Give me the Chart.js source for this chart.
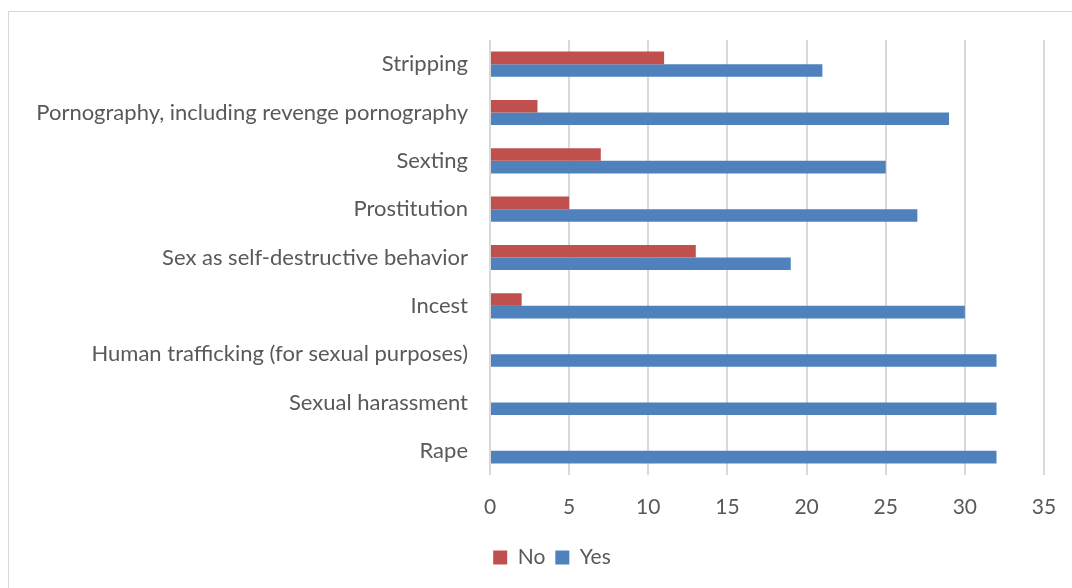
<!DOCTYPE html>
<html>
<head>
<meta charset="utf-8">
<script src="https://cdn.jsdelivr.net/npm/chart.js"></script>
<style>
  html, body { margin: 0; padding: 0; background: #fff; }
  .frame { position: absolute; left: 8px; top: 11px; width: 1100px; height: 600px; border: 1px solid #d9d9d9; }
  .area_body { position: absolute; left: 0; top: 0; width: 1072px; height: 588px; }
</style>
</head>
<body>
<div class="frame"></div>
<div class="area_body">
  <canvas id="myChart" width="1072" height="588"></canvas>
</div>
<script>
  // データ
  var categories = [
    'Stripping',
    'Pornography, including revenge pornography',
    'Sexting',
    'Prostitution',
    'Sex as self-destructive behavior',
    'Incest',
    'Human trafficking (for sexual purposes)',
    'Sexual harassment',
    'Rape'
  ];
  var noValues = [11, 3, 7, 5, 13, 2, 0, 0, 0];
  var yesValues = [21, 29, 25, 27, 19, 30, 32, 32, 32];
  var xTicks = [0, 5, 10, 15, 20, 25, 30, 35];

  var textColor = '#595959';
  var fontFamily = 'Lato, "Open Sans", sans-serif';

  // 凡例を少し右へずらす
  var legendShift = {
    id: 'legendShift',
    afterLayout: function (chart) {
      chart.legend.left += 20;
      chart.legend.right += 20;
    },
  };

  var ctx = document.getElementById('myChart').getContext('2d');
  var myChart = new Chart(ctx, {
    type: 'bar',
    data: {
      labels: categories,
      datasets: [
        {
          label: 'No',
          data: noValues,
          backgroundColor: '#C0504D',
          categoryPercentage: 0.52,
          barPercentage: 1.0,
        },
        {
          label: 'Yes',
          data: yesValues,
          backgroundColor: '#4F81BD',
          categoryPercentage: 0.52,
          barPercentage: 1.0,
        },
      ],
    },
    options: {
      indexAxis: 'y',
      responsive: false,
      animation: false,
      layout: { padding: { left: 20, right: 28, top: 40, bottom: 10 } },
      scales: {
        x: {
          min: 0,
          max: 35,
          afterBuildTicks: function (scale) {
            scale.ticks = xTicks.map(function (v) { return { value: v }; });
          },
          afterFit: function (scale) {
            scale.height = 62;
            scale.paddingLeft = 0;
            scale.paddingRight = 0;
          },
          grid: { color: '#d9d9d9', lineWidth: 2, drawTicks: false },
          border: { display: false },
          ticks: { padding: 20, color: textColor, font: { family: fontFamily, size: 21 } },
        },
        y: {
          afterFit: function (scale) { scale.width = 490 - 20; },
          grid: { display: false, drawTicks: false },
          border: { display: false },
          ticks: { padding: 22, color: textColor, font: { family: fontFamily, size: 22 } },
        },
      },
      plugins: {
        legend: {
          position: 'bottom',
          labels: {
            boxWidth: 14,
            boxHeight: 14,
            padding: 10,
            color: textColor,
            font: { family: fontFamily, size: 21 },
          },
        },
        tooltip: { enabled: false },
      },
    },
    plugins: [legendShift],
  });
</script>
</body>
</html>
